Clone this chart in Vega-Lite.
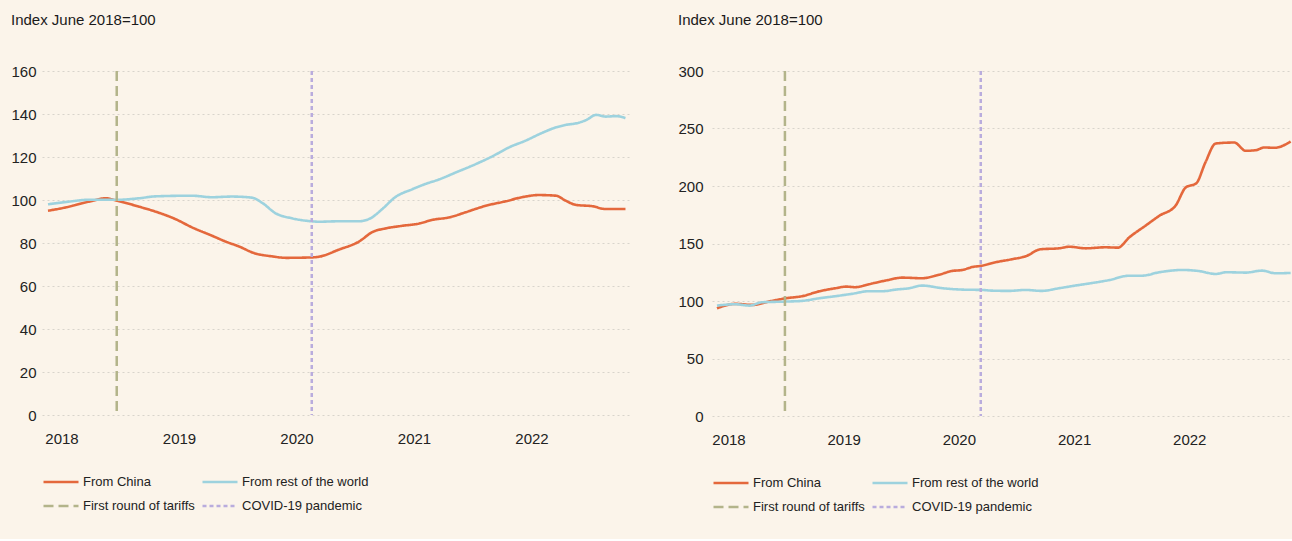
{
  "$schema": "https://vega.github.io/schema/vega-lite/v6.json",
  "padding": {"left": 10, "top": 13, "right": 0, "bottom": 24},
  "datasets": {
    "lines": [
      {"panel": "A", "series": "From China", "t": 2017.885, "v": 95.0},
      {"panel": "A", "series": "From China", "t": 2018.04, "v": 96.6},
      {"panel": "A", "series": "From China", "t": 2018.23, "v": 99.2},
      {"panel": "A", "series": "From China", "t": 2018.38, "v": 100.8},
      {"panel": "A", "series": "From China", "t": 2018.47, "v": 99.7},
      {"panel": "A", "series": "From China", "t": 2018.66, "v": 96.9},
      {"panel": "A", "series": "From China", "t": 2018.80, "v": 94.6},
      {"panel": "A", "series": "From China", "t": 2018.97, "v": 91.1},
      {"panel": "A", "series": "From China", "t": 2019.11, "v": 87.3},
      {"panel": "A", "series": "From China", "t": 2019.28, "v": 83.4},
      {"panel": "A", "series": "From China", "t": 2019.40, "v": 80.6},
      {"panel": "A", "series": "From China", "t": 2019.51, "v": 78.4},
      {"panel": "A", "series": "From China", "t": 2019.64, "v": 75.3},
      {"panel": "A", "series": "From China", "t": 2019.79, "v": 73.8},
      {"panel": "A", "series": "From China", "t": 2019.91, "v": 73.1},
      {"panel": "A", "series": "From China", "t": 2020.13, "v": 73.3},
      {"panel": "A", "series": "From China", "t": 2020.19, "v": 73.6},
      {"panel": "A", "series": "From China", "t": 2020.36, "v": 76.9},
      {"panel": "A", "series": "From China", "t": 2020.53, "v": 80.6},
      {"panel": "A", "series": "From China", "t": 2020.65, "v": 85.2},
      {"panel": "A", "series": "From China", "t": 2020.76, "v": 86.8},
      {"panel": "A", "series": "From China", "t": 2020.90, "v": 88.0},
      {"panel": "A", "series": "From China", "t": 2021.04, "v": 89.0},
      {"panel": "A", "series": "From China", "t": 2021.16, "v": 90.8},
      {"panel": "A", "series": "From China", "t": 2021.30, "v": 91.9},
      {"panel": "A", "series": "From China", "t": 2021.44, "v": 94.3},
      {"panel": "A", "series": "From China", "t": 2021.61, "v": 97.3},
      {"panel": "A", "series": "From China", "t": 2021.78, "v": 99.4},
      {"panel": "A", "series": "From China", "t": 2021.92, "v": 101.3},
      {"panel": "A", "series": "From China", "t": 2022.06, "v": 102.3},
      {"panel": "A", "series": "From China", "t": 2022.21, "v": 102.0},
      {"panel": "A", "series": "From China", "t": 2022.29, "v": 99.7},
      {"panel": "A", "series": "From China", "t": 2022.38, "v": 97.7},
      {"panel": "A", "series": "From China", "t": 2022.52, "v": 97.1},
      {"panel": "A", "series": "From China", "t": 2022.63, "v": 95.8},
      {"panel": "A", "series": "From China", "t": 2022.80, "v": 95.8},
      {"panel": "A", "series": "From rest of the world", "t": 2017.885, "v": 98.0},
      {"panel": "A", "series": "From rest of the world", "t": 2018.06, "v": 99.2},
      {"panel": "A", "series": "From rest of the world", "t": 2018.23, "v": 100.1},
      {"panel": "A", "series": "From rest of the world", "t": 2018.47, "v": 100.1},
      {"panel": "A", "series": "From rest of the world", "t": 2018.66, "v": 100.8},
      {"panel": "A", "series": "From rest of the world", "t": 2018.80, "v": 101.7},
      {"panel": "A", "series": "From rest of the world", "t": 2019.11, "v": 102.0},
      {"panel": "A", "series": "From rest of the world", "t": 2019.28, "v": 101.3},
      {"panel": "A", "series": "From rest of the world", "t": 2019.45, "v": 101.6},
      {"panel": "A", "series": "From rest of the world", "t": 2019.62, "v": 101.1},
      {"panel": "A", "series": "From rest of the world", "t": 2019.71, "v": 98.6},
      {"panel": "A", "series": "From rest of the world", "t": 2019.82, "v": 93.9},
      {"panel": "A", "series": "From rest of the world", "t": 2019.96, "v": 91.5},
      {"panel": "A", "series": "From rest of the world", "t": 2020.13, "v": 90.1},
      {"panel": "A", "series": "From rest of the world", "t": 2020.19, "v": 89.9},
      {"panel": "A", "series": "From rest of the world", "t": 2020.36, "v": 90.1},
      {"panel": "A", "series": "From rest of the world", "t": 2020.53, "v": 90.1},
      {"panel": "A", "series": "From rest of the world", "t": 2020.63, "v": 91.5},
      {"panel": "A", "series": "From rest of the world", "t": 2020.73, "v": 95.8},
      {"panel": "A", "series": "From rest of the world", "t": 2020.84, "v": 101.3},
      {"panel": "A", "series": "From rest of the world", "t": 2020.99, "v": 105.1},
      {"panel": "A", "series": "From rest of the world", "t": 2021.10, "v": 107.5},
      {"panel": "A", "series": "From rest of the world", "t": 2021.21, "v": 109.5},
      {"panel": "A", "series": "From rest of the world", "t": 2021.36, "v": 112.9},
      {"panel": "A", "series": "From rest of the world", "t": 2021.53, "v": 116.8},
      {"panel": "A", "series": "From rest of the world", "t": 2021.67, "v": 120.4},
      {"panel": "A", "series": "From rest of the world", "t": 2021.81, "v": 124.5},
      {"panel": "A", "series": "From rest of the world", "t": 2021.95, "v": 127.6},
      {"panel": "A", "series": "From rest of the world", "t": 2022.09, "v": 131.2},
      {"panel": "A", "series": "From rest of the world", "t": 2022.21, "v": 133.8},
      {"panel": "A", "series": "From rest of the world", "t": 2022.29, "v": 134.9},
      {"panel": "A", "series": "From rest of the world", "t": 2022.40, "v": 135.9},
      {"panel": "A", "series": "From rest of the world", "t": 2022.47, "v": 137.3},
      {"panel": "A", "series": "From rest of the world", "t": 2022.55, "v": 139.6},
      {"panel": "A", "series": "From rest of the world", "t": 2022.63, "v": 138.8},
      {"panel": "A", "series": "From rest of the world", "t": 2022.72, "v": 139.0},
      {"panel": "A", "series": "From rest of the world", "t": 2022.80, "v": 138.1},
      {"panel": "B", "series": "From China", "t": 2017.90, "v": 93.7},
      {"panel": "B", "series": "From China", "t": 2018.06, "v": 97.5},
      {"panel": "B", "series": "From China", "t": 2018.21, "v": 96.6},
      {"panel": "B", "series": "From China", "t": 2018.35, "v": 99.5},
      {"panel": "B", "series": "From China", "t": 2018.50, "v": 102.4},
      {"panel": "B", "series": "From China", "t": 2018.64, "v": 104.2},
      {"panel": "B", "series": "From China", "t": 2018.79, "v": 108.5},
      {"panel": "B", "series": "From China", "t": 2018.93, "v": 111.1},
      {"panel": "B", "series": "From China", "t": 2019.02, "v": 112.5},
      {"panel": "B", "series": "From China", "t": 2019.10, "v": 112.0},
      {"panel": "B", "series": "From China", "t": 2019.22, "v": 114.6},
      {"panel": "B", "series": "From China", "t": 2019.36, "v": 117.7},
      {"panel": "B", "series": "From China", "t": 2019.51, "v": 120.3},
      {"panel": "B", "series": "From China", "t": 2019.68, "v": 119.8},
      {"panel": "B", "series": "From China", "t": 2019.83, "v": 122.9},
      {"panel": "B", "series": "From China", "t": 2019.94, "v": 126.1},
      {"panel": "B", "series": "From China", "t": 2020.03, "v": 127.0},
      {"panel": "B", "series": "From China", "t": 2020.12, "v": 129.6},
      {"panel": "B", "series": "From China", "t": 2020.20, "v": 130.7},
      {"panel": "B", "series": "From China", "t": 2020.32, "v": 133.7},
      {"panel": "B", "series": "From China", "t": 2020.46, "v": 136.3},
      {"panel": "B", "series": "From China", "t": 2020.58, "v": 138.9},
      {"panel": "B", "series": "From China", "t": 2020.71, "v": 145.0},
      {"panel": "B", "series": "From China", "t": 2020.87, "v": 145.8},
      {"panel": "B", "series": "From China", "t": 2020.96, "v": 147.2},
      {"panel": "B", "series": "From China", "t": 2021.10, "v": 145.8},
      {"panel": "B", "series": "From China", "t": 2021.27, "v": 146.7},
      {"panel": "B", "series": "From China", "t": 2021.38, "v": 146.4},
      {"panel": "B", "series": "From China", "t": 2021.48, "v": 155.4},
      {"panel": "B", "series": "From China", "t": 2021.62, "v": 165.5},
      {"panel": "B", "series": "From China", "t": 2021.74, "v": 174.1},
      {"panel": "B", "series": "From China", "t": 2021.88, "v": 182.8},
      {"panel": "B", "series": "From China", "t": 2021.97, "v": 198.8},
      {"panel": "B", "series": "From China", "t": 2022.06, "v": 202.3},
      {"panel": "B", "series": "From China", "t": 2022.14, "v": 220.5},
      {"panel": "B", "series": "From China", "t": 2022.23, "v": 237.0},
      {"panel": "B", "series": "From China", "t": 2022.39, "v": 237.8},
      {"panel": "B", "series": "From China", "t": 2022.49, "v": 230.6},
      {"panel": "B", "series": "From China", "t": 2022.58, "v": 231.2},
      {"panel": "B", "series": "From China", "t": 2022.65, "v": 233.5},
      {"panel": "B", "series": "From China", "t": 2022.74, "v": 233.2},
      {"panel": "B", "series": "From China", "t": 2022.88, "v": 238.7},
      {"panel": "B", "series": "From rest of the world", "t": 2017.90, "v": 96.0},
      {"panel": "B", "series": "From rest of the world", "t": 2018.06, "v": 97.2},
      {"panel": "B", "series": "From rest of the world", "t": 2018.18, "v": 96.0},
      {"panel": "B", "series": "From rest of the world", "t": 2018.29, "v": 98.9},
      {"panel": "B", "series": "From rest of the world", "t": 2018.50, "v": 99.5},
      {"panel": "B", "series": "From rest of the world", "t": 2018.64, "v": 100.1},
      {"panel": "B", "series": "From rest of the world", "t": 2018.79, "v": 102.4},
      {"panel": "B", "series": "From rest of the world", "t": 2018.93, "v": 104.2},
      {"panel": "B", "series": "From rest of the world", "t": 2019.07, "v": 106.2},
      {"panel": "B", "series": "From rest of the world", "t": 2019.22, "v": 108.5},
      {"panel": "B", "series": "From rest of the world", "t": 2019.34, "v": 108.5},
      {"panel": "B", "series": "From rest of the world", "t": 2019.45, "v": 109.9},
      {"panel": "B", "series": "From rest of the world", "t": 2019.57, "v": 111.1},
      {"panel": "B", "series": "From rest of the world", "t": 2019.68, "v": 113.4},
      {"panel": "B", "series": "From rest of the world", "t": 2019.86, "v": 111.1},
      {"panel": "B", "series": "From rest of the world", "t": 2020.03, "v": 109.9},
      {"panel": "B", "series": "From rest of the world", "t": 2020.20, "v": 109.6},
      {"panel": "B", "series": "From rest of the world", "t": 2020.29, "v": 109.0},
      {"panel": "B", "series": "From rest of the world", "t": 2020.43, "v": 108.8},
      {"panel": "B", "series": "From rest of the world", "t": 2020.58, "v": 109.6},
      {"panel": "B", "series": "From rest of the world", "t": 2020.72, "v": 108.8},
      {"panel": "B", "series": "From rest of the world", "t": 2020.87, "v": 111.1},
      {"panel": "B", "series": "From rest of the world", "t": 2021.01, "v": 113.4},
      {"panel": "B", "series": "From rest of the world", "t": 2021.16, "v": 115.7},
      {"panel": "B", "series": "From rest of the world", "t": 2021.30, "v": 118.1},
      {"panel": "B", "series": "From rest of the world", "t": 2021.48, "v": 122.0},
      {"panel": "B", "series": "From rest of the world", "t": 2021.59, "v": 122.0},
      {"panel": "B", "series": "From rest of the world", "t": 2021.74, "v": 125.0},
      {"panel": "B", "series": "From rest of the world", "t": 2021.94, "v": 127.0},
      {"panel": "B", "series": "From rest of the world", "t": 2022.08, "v": 126.1},
      {"panel": "B", "series": "From rest of the world", "t": 2022.23, "v": 123.5},
      {"panel": "B", "series": "From rest of the world", "t": 2022.32, "v": 125.0},
      {"panel": "B", "series": "From rest of the world", "t": 2022.49, "v": 124.7},
      {"panel": "B", "series": "From rest of the world", "t": 2022.63, "v": 126.4},
      {"panel": "B", "series": "From rest of the world", "t": 2022.75, "v": 124.1},
      {"panel": "B", "series": "From rest of the world", "t": 2022.88, "v": 124.4}
    ],
    "events": [
      {"panel": "A", "series": "First round of tariffs", "t": 2018.47},
      {"panel": "A", "series": "COVID-19 pandemic", "t": 2020.13},
      {"panel": "B", "series": "First round of tariffs", "t": 2018.49},
      {"panel": "B", "series": "COVID-19 pandemic", "t": 2020.19}
    ]
  },
  "hconcat": [
    {
      "width": 589,
      "height": 344,
      "title": {"text": "Index June 2018=100"},
      "layer": [
        {
          "data": {"name": "lines"},
          "transform": [{"filter": "datum.panel === 'A'"}],
          "mark": {"type": "line", "strokeWidth": 2.6, "interpolate": "monotone"},
          "encoding": {
            "x": {"field": "t", "type": "quantitative", "title": null, "scale": {"domain": [2017.834, 2022.847], "nice": false, "zero": false}, "axis": {"values": [2018, 2019, 2020, 2021, 2022], "format": "d"}},
            "y": {"field": "v", "type": "quantitative", "title": null, "scale": {"domain": [0, 160], "nice": false}, "axis": {"values": [0, 20, 40, 60, 80, 100, 120, 140, 160], "labelPadding": 6}},
            "color": {"field": "series", "type": "nominal", "scale": {"domain": ["From China", "From rest of the world", "First round of tariffs", "COVID-19 pandemic"], "range": ["#E4683C", "#9DD2DE", "#B3B48A", "#B9ACDD"]}, "legend": {"title": null, "columns": 2}},
            "strokeDash": {"field": "series", "type": "nominal", "scale": {"domain": ["From China", "From rest of the world", "First round of tariffs", "COVID-19 pandemic"], "range": [[1, 0], [1, 0], [10, 5], [4, 3]]}, "legend": {"title": null, "columns": 2}}
          }
        },
        {
          "data": {"name": "events"},
          "transform": [{"filter": "datum.panel === 'A'"}],
          "mark": {"type": "rule", "strokeWidth": 2.5},
          "encoding": {
            "x": {"field": "t", "type": "quantitative"},
            "color": {"field": "series", "type": "nominal"},
            "strokeDash": {"field": "series", "type": "nominal"}
          }
        }
      ]
    },
    {
      "width": 579,
      "height": 345,
      "title": {"text": "Index June 2018=100"},
      "layer": [
        {
          "data": {"name": "lines"},
          "transform": [{"filter": "datum.panel === 'B'"}],
          "mark": {"type": "line", "strokeWidth": 2.6, "interpolate": "monotone"},
          "encoding": {
            "x": {"field": "t", "type": "quantitative", "title": null, "scale": {"domain": [2017.857, 2022.883], "nice": false, "zero": false}, "axis": {"values": [2018, 2019, 2020, 2021, 2022], "format": "d"}},
            "y": {"field": "v", "type": "quantitative", "title": null, "scale": {"domain": [0, 300], "nice": false}, "axis": {"values": [0, 50, 100, 150, 200, 250, 300], "labelPadding": 9}},
            "color": {"field": "series", "type": "nominal", "scale": {"domain": ["From China", "From rest of the world", "First round of tariffs", "COVID-19 pandemic"], "range": ["#E4683C", "#9DD2DE", "#B3B48A", "#B9ACDD"]}, "legend": {"title": null, "columns": 2}},
            "strokeDash": {"field": "series", "type": "nominal", "scale": {"domain": ["From China", "From rest of the world", "First round of tariffs", "COVID-19 pandemic"], "range": [[1, 0], [1, 0], [10, 5], [4, 3]]}, "legend": {"title": null, "columns": 2}}
          }
        },
        {
          "data": {"name": "events"},
          "transform": [{"filter": "datum.panel === 'B'"}],
          "mark": {"type": "rule", "strokeWidth": 2.5},
          "encoding": {
            "x": {"field": "t", "type": "quantitative"},
            "color": {"field": "series", "type": "nominal"},
            "strokeDash": {"field": "series", "type": "nominal"}
          }
        }
      ]
    }
  ],
  "resolve": {
    "scale": {"x": "independent", "y": "independent", "color": "independent", "strokeDash": "independent"},
    "legend": {"color": "independent", "strokeDash": "independent"}
  },
  "spacing": 46,
  "config": {
    "background": "#FBF4EA",
    "font": "Liberation Sans",
    "view": {"stroke": null},
    "axis": {"domain": false, "ticks": false, "labelFontSize": 15, "labelColor": "#222222", "labelFont": "Liberation Sans"},
    "axisX": {"grid": false, "labelPadding": 16},
    "axisY": {"grid": true, "gridDash": [2, 3], "gridColor": "#D8D4CC", "gridWidth": 1},
    "title": {"anchor": "start", "fontSize": 15, "fontWeight": "normal", "color": "#1A1A1A", "offset": 36, "font": "Liberation Sans"},
    "legend": {"orient": "bottom", "direction": "horizontal", "columns": 2, "symbolType": "stroke", "symbolSize": 1225, "symbolStrokeWidth": 2.5, "clipHeight": 16, "labelFontSize": 13, "labelColor": "#222222", "labelFont": "Liberation Sans", "labelOffset": 3, "rowPadding": 8, "columnPadding": 6, "offset": 28}
  }
}
